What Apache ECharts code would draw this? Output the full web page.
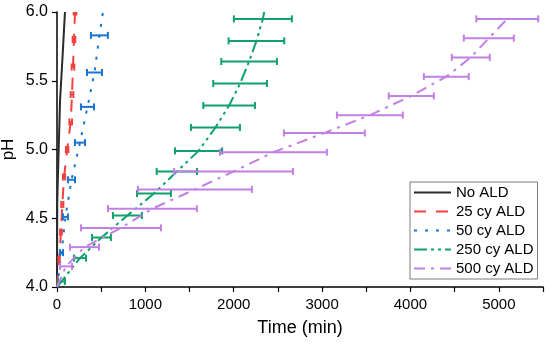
<!DOCTYPE html>
<html><head><meta charset="utf-8">
<script src="https://cdn.jsdelivr.net/npm/echarts@6/dist/echarts.min.js"></script>
<style>html,body{margin:0;padding:0;background:#fff}#c{width:550px;height:345px}</style>
</head><body><div id="c"></div>
<script>
// ---- data (time in min, pH, horizontal error in min) ----
const seriesNames = ['No ALD', '25 cy ALD', '50 cy ALD', '250 cy ALD', '500 cy ALD'];
const xTickValues = [0, 1000, 2000, 3000, 4000, 5000];
const yTickLabels = ['4.0', '4.5', '5.0', '5.5', '6.0'];

const noAldPH   = [4.0, 4.63, 5.35, 5.69, 6.0];
const noAldTime = [0, 3, 34, 64, 90];
const noAldErr  = [null, null, null, null, null];

const cy25PH   = [4.0, 4.2, 4.4, 4.6, 4.8, 5.0, 5.2, 5.4, 5.6, 5.8, 6.0];
const cy25Time = [0, 23, 45, 60, 80, 115, 155, 170, 181, 192, 204];
const cy25Err  = [null, 8, 10, 12, 12, 14, 15, 15, 15, 15, 15];

const cy50PH   = [4.0, 4.25, 4.51, 4.78, 5.05, 5.31, 5.56, 5.83, 6.0];
const cy50Time = [0, 51, 96, 164, 260, 345, 424, 480, 520];
const cy50Err  = [null, 17, 28, 40, 57, 74, 85, 96, null];

const cy250PH   = [4.0, 4.04, 4.21, 4.36, 4.52, 4.68, 4.84, 4.99, 5.16, 5.32, 5.48, 5.64, 5.79, 5.95, 6.0];
const cy250Time = [0, 50, 260, 503, 797, 1097, 1356, 1602, 1793, 1948, 2072, 2174, 2257, 2330, 2345];
const cy250Err  = [null, 40, 68, 107, 164, 192, 228, 267, 277, 292, 304, 315, 315, 328, null];

const cy500PH   = [4.0, 4.15, 4.29, 4.43, 4.57, 4.71, 4.84, 4.98, 5.12, 5.25, 5.39, 5.53, 5.67, 5.81, 5.95];
const cy500Time = [0, 102, 311, 724, 1080, 1561, 1997, 2449, 3026, 3541, 4010, 4406, 4683, 4887, 5096];
const cy500Err  = [null, 68, 164, 452, 503, 645, 673, 605, 458, 373, 255, 254, 215, 283, 350];

// ---- styling ----
const FONT = '"Liberation Sans", Arial, sans-serif';
const colors = ['#2a2a2a', '#f2413f', '#1a74d1', '#0fa06b', '#c27fe6'];
const dashes = ['solid', [12, 10], [3, 8], [13, 4, 3, 4, 3, 4], [11, 6, 3, 6]];

const groups = [
  [noAldTime, noAldPH, noAldErr],
  [cy25Time, cy25PH, cy25Err],
  [cy50Time, cy50PH, cy50Err],
  [cy250Time, cy250PH, cy250Err],
  [cy500Time, cy500PH, cy500Err]
];

function errRender(color) {
  return function (params, api) {
    const t = api.value(0), p = api.value(1), e = api.value(2);
    const a = api.coord([t - e, p]), b = api.coord([t + e, p]);
    const h = 3.5;
    const style = { stroke: color, lineWidth: 2, fill: null };
    return { type: 'group', children: [
      { type: 'line', shape: { x1: a[0], y1: a[1], x2: b[0], y2: b[1] }, style: style },
      { type: 'line', shape: { x1: a[0], y1: a[1] - h, x2: a[0], y2: a[1] + h }, style: style },
      { type: 'line', shape: { x1: b[0], y1: b[1] - h, x2: b[0], y2: b[1] + h }, style: style }
    ]};
  };
}

const series = [];
groups.forEach(function (g, i) {
  const [tt, pp, ee] = g;
  series.push({
    name: seriesNames[i], type: 'line', symbol: 'none', showSymbol: false,
    data: tt.map(function (t, k) { return [t, pp[k]]; }),
    color: colors[i],
    lineStyle: { color: colors[i], width: 2, type: dashes[i] },
    z: 3 + i, clip: true
  });
  const ed = [];
  tt.forEach(function (t, k) { if (ee[k] != null) ed.push([t, pp[k], ee[k]]); });
  if (ed.length) {
    series.push({
      name: seriesNames[i] + ' err', type: 'custom', renderItem: errRender(colors[i]),
      data: ed, encode: { x: 0, y: 1 }, z: 3 + i, clip: true, silent: true
    });
  }
});

const chart = echarts.init(document.getElementById('c'), null, { renderer: 'canvas' });
chart.setOption({
  animation: false,
  backgroundColor: '#fff',
  grid: { left: 57, right: 7, top: 12, bottom: 58, containLabel: false, outerBoundsMode: 'none' },
  xAxis: {
    type: 'value', min: 0, max: 5500, interval: 500,
    name: 'Time (min)', nameLocation: 'middle', nameGap: 32, nameMoveOverlap: false,
    nameTextStyle: { fontFamily: FONT, fontSize: 18, color: '#000' },
    axisLine: { show: true, onZero: false, lineStyle: { color: '#000', width: 1.5 } },
    axisTick: { show: true, inside: false, length: 5, lineStyle: { color: '#000', width: 1.2 } },
    axisLabel: {
      fontFamily: FONT, fontSize: 15, color: '#000', margin: 10,
      formatter: function (v) { return xTickValues.indexOf(v) >= 0 ? String(v) : ''; }
    },
    splitLine: { show: false }
  },
  yAxis: {
    type: 'value', min: 4.0, max: 6.0, interval: 0.5,
    name: 'pH', nameLocation: 'middle', nameGap: 40, nameRotate: 90, nameMoveOverlap: false,
    nameTextStyle: { fontFamily: FONT, fontSize: 17, color: '#000' },
    axisLine: { show: true, onZero: false, lineStyle: { color: '#000', width: 1.5 } },
    axisTick: { show: true, inside: false, length: 5, lineStyle: { color: '#000', width: 1.2 } },
    axisLabel: {
      fontFamily: FONT, fontSize: 16, color: '#000', margin: 9,
      formatter: function (v) {
        const s = v.toFixed(1);
        return yTickLabels.indexOf(s) >= 0 ? s : '';
      }
    },
    splitLine: { show: false }
  },
  legend: {
    data: seriesNames, orient: 'vertical', left: 410, top: 182,
    itemWidth: 37, itemHeight: 12, itemGap: 2,
    padding: [2, 4, 2, 3],
    backgroundColor: '#fff', borderColor: '#7a7a7a', borderWidth: 1, borderRadius: 0,
    itemStyle: { opacity: 0 },
    textStyle: { fontFamily: FONT, fontSize: 15, color: '#000', lineHeight: 17 }
  },
  series: series
});
</script>
</body></html>
